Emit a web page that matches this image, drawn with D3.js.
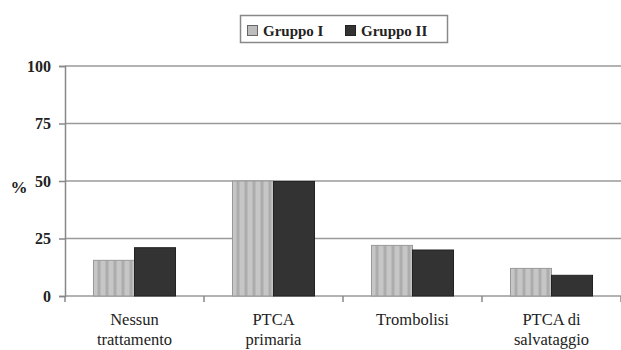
<!DOCTYPE html>
<html>
<head>
<meta charset="utf-8">
<script src="https://cdn.jsdelivr.net/npm/d3@7"></script>
<style>
  body { margin: 0; background: #fff; }
</style>
</head>
<body>
<div id="chart-area"></div>
<script>
// Data
var categories = [["Nessun", "trattamento"], ["PTCA", "primaria"], ["Trombolisi"], ["PTCA di", "salvataggio"]];
var series = ["Gruppo I", "Gruppo II"];
var gruppo1 = [15.5, 50, 22, 12];
var gruppo2 = [21, 49.8, 20, 9];
var yTicks = [0, 25, 50, 75, 100];

var width = 621, height = 350;
var margin = { top: 66, right: 0, bottom: 54, left: 65 };
var serif = "'Liberation Serif', 'Times New Roman', serif";

var svg = d3.select("#chart-area").append("svg")
    .attr("width", width)
    .attr("height", height)
    .style("font-family", serif);

// striped fill for the light bars
var defs = svg.append("defs");
var pat = defs.append("pattern")
    .attr("id", "stripes")
    .attr("patternUnits", "userSpaceOnUse")
    .attr("width", 8).attr("height", 8);
pat.append("rect").attr("width", 8).attr("height", 8).attr("fill", "#c6c6c6");
pat.append("rect").attr("x", 4).attr("width", 3).attr("height", 8).attr("fill", "#acacac");

var colors = ["url(#stripes)", "#333333"];

// SCALES
var x0 = d3.scaleBand()
    .domain(d3.range(categories.length))
    .range([margin.left, width - margin.right])
    .paddingInner(0.41)
    .paddingOuter(0.205);

var x1 = d3.scaleBand()
    .domain(d3.range(series.length))
    .range([0, x0.bandwidth()]);

var y = d3.scaleLinear()
    .domain([0, 100])
    .range([height - margin.bottom, margin.top]);

// grid lines
svg.append("g")
    .selectAll("line")
    .data(yTicks)
    .enter().append("line")
    .attr("x1", margin.left)
    .attr("x2", width - margin.right)
    .attr("y1", function (d) { return y(d); })
    .attr("y2", function (d) { return y(d); })
    .attr("stroke", "#9a9a9a")
    .attr("stroke-width", 1.5);

// BARS
var rows = categories.map(function (c, i) { return [gruppo1[i], gruppo2[i]]; });
var groups = svg.append("g").selectAll("g")
    .data(rows)
    .enter().append("g")
    .attr("transform", function (d, i) { return "translate(" + x0(i) + ",0)"; });

groups.selectAll("rect")
    .data(function (d) { return d; })
    .enter().append("rect")
    .attr("x", function (d, j) { return x1(j); })
    .attr("y", function (d) { return y(d); })
    .attr("width", x1.bandwidth())
    .attr("height", function (d) { return y(0) - y(d); })
    .attr("fill", function (d, j) { return colors[j]; })
    .attr("stroke", function (d, j) { return j === 0 ? "#999" : "#222"; })
    .attr("stroke-width", 1);

// Y AXIS
var leftAxis = d3.axisLeft(y).tickValues(yTicks).tickSize(6).tickPadding(8);
var yAxisGroup = svg.append("g")
    .attr("transform", "translate(" + margin.left + ",0)")
    .call(leftAxis);
yAxisGroup.attr("font-family", null);
yAxisGroup.selectAll("line").attr("stroke", "#888").attr("stroke-width", 1.5);
yAxisGroup.select(".domain").attr("stroke", "#888").attr("stroke-width", 1.5);
yAxisGroup.selectAll("text")
    .style("font-family", serif)
    .style("font-size", "16px")
    .style("font-weight", "bold")
    .attr("fill", "#222");

// X AXIS: tick marks at category boundaries
var xBounds = d3.range(categories.length + 1).map(function (i) {
    return margin.left + i * x0.step();
});
svg.append("g").selectAll("line")
    .data(xBounds)
    .enter().append("line")
    .attr("x1", function (d) { return d; })
    .attr("x2", function (d) { return d; })
    .attr("y1", y(0))
    .attr("y2", y(0) + 6)
    .attr("stroke", "#888")
    .attr("stroke-width", 1.5);

// category labels
var labels = svg.append("g").selectAll("text")
    .data(categories)
    .enter().append("text")
    .attr("x", function (d, i) { return x0(i) + x0.bandwidth() / 2; })
    .attr("y", 325)
    .attr("text-anchor", "middle")
    .style("font-family", serif)
    .style("font-size", "16.5px")
    .attr("fill", "#222");
labels.selectAll("tspan")
    .data(function (d) { return d; })
    .enter().append("tspan")
    .attr("x", function () { return d3.select(this.parentNode).attr("x"); })
    .attr("dy", function (d, k) { return k === 0 ? 0 : 20; })
    .text(function (d) { return d; });

// Y Label
svg.append("text")
    .attr("x", 19)
    .attr("y", 193)
    .attr("text-anchor", "middle")
    .style("font-family", serif)
    .style("font-size", "17px")
    .style("font-weight", "bold")
    .attr("fill", "#222")
    .text("%");

// LEGEND
var legend = svg.append("g");
legend.append("rect")
    .attr("x", 240.5).attr("y", 15.5)
    .attr("width", 207).attr("height", 27)
    .attr("fill", "#fff")
    .attr("stroke", "#888")
    .attr("stroke-width", 1.5);
var legendX = [247, 345];
series.forEach(function (s, j) {
    legend.append("rect")
        .attr("x", legendX[j] + 0.5).attr("y", 25.5)
        .attr("width", 10).attr("height", 10)
        .attr("fill", j === 0 ? "#bdbdbd" : "#333")
        .attr("stroke", j === 0 ? "#666" : "#222");
    legend.append("text")
        .attr("x", legendX[j] + 16)
        .attr("y", 36)
        .style("font-family", serif)
        .style("font-size", "15px")
        .style("font-weight", "bold")
        .attr("fill", "#222")
        .text(s);
});
</script>
</body>
</html>
